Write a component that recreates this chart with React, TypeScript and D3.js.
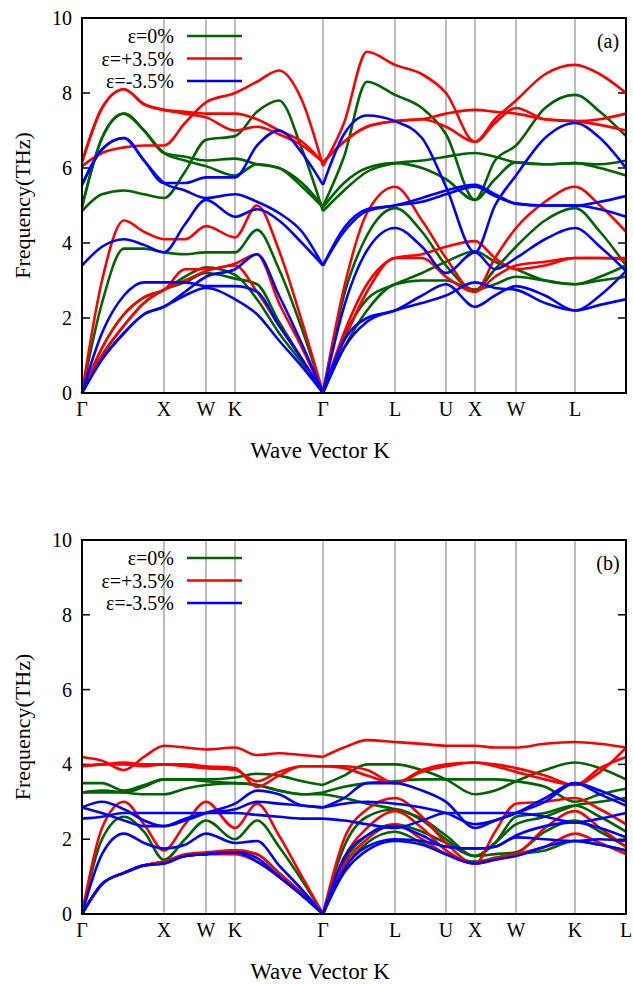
import React, { useRef, useEffect } from 'react';
import * as d3 from 'd3';

// path distance of each sample knot (Γ at index 0, 11)
const kPts = [0, 20, 42, 62, 82, 103, 124, 153, 175, 197, 220, 241, 262, 285, 313, 340, 364, 393, 413, 434, 463, 493, 518, 544];
const symPos = [0, 82, 124, 153, 241, 313, 364, 393, 434, 493, 544];
const symA = ['Γ', 'X', 'W', 'K', 'Γ', 'L', 'U', 'X', 'W', 'L', ''];
const symB = ['Γ', 'X', 'W', 'K', 'Γ', 'L', 'U', 'X', 'W', 'K', 'L'];
const yTicks = [0, 2, 4, 6, 8, 10];
const legendLabels = ['ε=0%', 'ε=+3.5%', 'ε=-3.5%'];
const colors = ['#006400', '#ff0000', '#0000ff'];

const aGreen = [
  [0, 1.0, 1.8, 2.4, 2.75, 2.95, 3.2, 3.05, 2.9, 1.9, 0.9, 0, 1.2, 2.2, 2.9, 3.0, 3.0, 2.75, 2.9, 3.1, 3.0, 2.9, 3.0, 3.1],
  [0, 1.2, 2.1, 2.55, 2.75, 3.1, 3.35, 3.15, 2.5, 1.6, 0.8, 0, 1.5, 2.5, 2.9, 3.2, 3.5, 3.78, 3.5, 3.3, 3.0, 2.9, 3.1, 3.4],
  [0, 2.4, 3.85, 3.85, 3.75, 3.7, 3.75, 3.75, 4.35, 3.3, 1.7, 0, 2.6, 4.2, 4.93, 4.3, 3.4, 2.75, 3.3, 3.9, 4.6, 4.93, 4.3, 3.4],
  [4.85, 5.3, 5.4, 5.3, 5.2, 5.9, 6.75, 6.85, 7.5, 7.8, 6.5, 4.85, 5.4, 5.9, 6.13, 6.2, 6.3, 6.4, 6.3, 6.15, 6.1, 6.13, 6.1, 6.2],
  [4.95, 6.8, 7.45, 7.0, 6.4, 6.2, 6.05, 5.8, 6.1, 6.0, 5.5, 4.95, 5.6, 6.0, 6.13, 6.0, 5.7, 5.15, 5.7, 6.15, 6.1, 6.13, 6.0, 5.8],
  [4.98, 6.8, 7.45, 7.0, 6.4, 6.3, 6.2, 6.25, 6.1, 6.0, 5.6, 4.98, 6.3, 8.3, 7.95, 7.6, 6.9, 5.15, 6.2, 6.6, 7.6, 7.95, 7.5, 6.85],
];
const aRed = [
  [0, 1.0, 1.8, 2.4, 2.75, 3.0, 3.25, 3.4, 2.7, 1.8, 0.9, 0, 1.4, 2.7, 3.6, 3.6, 3.1, 2.7, 3.1, 3.4, 3.5, 3.6, 3.6, 3.55],
  [0, 1.2, 2.1, 2.55, 2.75, 3.3, 3.3, 3.45, 3.7, 2.4, 1.2, 0, 1.6, 2.9, 3.6, 3.7, 3.9, 4.05, 3.6, 3.3, 3.4, 3.6, 3.6, 3.6],
  [0, 3.0, 4.6, 4.3, 4.1, 4.1, 4.45, 4.15, 5.0, 3.8, 1.9, 0, 2.8, 4.8, 5.5, 4.6, 3.6, 2.7, 3.6, 4.4, 5.1, 5.5, 5.0, 4.3],
  [6.05, 6.4, 6.55, 6.6, 6.6, 7.2, 7.75, 8.0, 8.3, 8.6, 7.8, 6.05, 7.2, 9.1, 8.75, 8.5, 8.0, 6.7, 7.3, 7.8, 8.5, 8.75, 8.5, 8.0],
  [6.15, 7.6, 8.1, 7.7, 7.55, 7.5, 7.45, 7.45, 7.3, 7.0, 6.7, 6.15, 6.7, 7.1, 7.25, 7.3, 7.1, 6.7, 7.2, 7.6, 7.3, 7.25, 7.15, 7.0],
  [6.15, 7.6, 8.1, 7.7, 7.55, 7.45, 7.35, 7.0, 7.1, 6.9, 6.6, 6.15, 6.7, 7.1, 7.25, 7.3, 7.45, 7.55, 7.5, 7.45, 7.3, 7.25, 7.3, 7.45],
];
const aBlue = [
  [0, 0.9, 1.6, 2.1, 2.3, 2.6, 2.8, 2.5, 2.1, 1.4, 0.7, 0, 1.2, 1.9, 2.2, 2.4, 2.6, 2.95, 2.8, 2.75, 2.4, 2.2, 2.35, 2.5],
  [0, 1.6, 2.6, 2.95, 2.95, 2.95, 2.85, 2.85, 2.7, 1.8, 0.9, 0, 1.4, 2.0, 2.2, 2.6, 2.9, 2.3, 2.6, 2.85, 2.6, 2.2, 2.6, 3.25],
  [0, 0.9, 1.6, 2.1, 2.3, 2.7, 3.1, 3.3, 3.7, 2.6, 1.3, 0, 2.3, 3.8, 4.4, 3.9, 3.2, 3.75, 3.3, 3.6, 4.1, 4.4, 3.9, 3.25],
  [3.4, 3.9, 4.1, 3.95, 3.75, 4.5, 5.15, 4.7, 4.9, 4.6, 4.0, 3.4, 4.4, 4.9, 5.0, 5.2, 5.4, 5.55, 5.3, 5.05, 5.0, 5.0, 5.1, 5.25],
  [5.55, 6.5, 6.8, 6.2, 5.6, 5.6, 5.75, 5.75, 6.6, 7.0, 6.4, 5.55, 6.9, 7.4, 7.25, 6.8, 5.5, 3.75, 5.0, 5.8, 6.8, 7.2, 6.8, 6.0],
  [5.55, 6.5, 6.8, 6.2, 5.6, 5.4, 5.2, 5.3, 5.1, 4.8, 4.3, 3.4, 4.3, 4.85, 5.0, 5.1, 5.3, 5.5, 5.25, 5.05, 5.0, 5.0, 4.9, 4.7],
];

const bGreen = [
  [0, 0.8, 1.1, 1.3, 1.4, 1.55, 1.6, 1.65, 1.4, 1.0, 0.5, 0, 1.2, 1.9, 2.2, 1.9, 1.6, 1.4, 1.5, 1.6, 1.7, 1.95, 1.85, 1.7],
  [0, 0.8, 1.1, 1.3, 1.4, 1.55, 1.6, 1.7, 1.6, 1.1, 0.55, 0, 1.4, 2.1, 2.4, 2.2, 1.9, 1.55, 1.6, 1.65, 2.2, 2.5, 2.2, 1.8],
  [0, 2.0, 2.6, 2.2, 1.45, 2.0, 2.5, 2.0, 2.5, 1.8, 0.9, 0, 1.8, 2.6, 2.8, 2.5, 2.0, 1.55, 1.9, 2.6, 2.7, 2.9, 2.6, 2.2],
  [3.25, 3.3, 3.25, 3.2, 3.2, 3.35, 3.45, 3.5, 3.45, 3.3, 3.2, 3.2, 3.1, 2.95, 2.8, 2.55, 2.1, 1.55, 1.9, 2.4, 2.6, 2.9, 3.0, 3.1],
  [3.25, 3.25, 3.25, 3.4, 3.6, 3.6, 3.55, 3.5, 3.45, 3.3, 3.2, 3.25, 3.4, 3.5, 3.55, 3.6, 3.6, 3.6, 3.6, 3.55, 3.4, 3.0, 3.2, 3.35],
  [3.5, 3.5, 3.3, 3.45, 3.6, 3.6, 3.6, 3.65, 3.75, 3.7, 3.55, 3.45, 3.7, 4.0, 4.0, 3.85, 3.6, 3.2, 3.3, 3.55, 3.85, 4.05, 3.9, 3.6],
];
const bRed = [
  [0, 0.8, 1.1, 1.3, 1.4, 1.55, 1.6, 1.6, 1.4, 1.0, 0.5, 0, 1.3, 2.0, 2.4, 2.0, 1.6, 1.35, 1.45, 1.6, 1.8, 2.15, 1.9, 1.6],
  [0, 0.8, 1.1, 1.3, 1.4, 1.6, 1.65, 1.7, 1.6, 1.1, 0.55, 0, 1.5, 2.3, 2.75, 2.3, 1.7, 1.35, 1.5, 1.6, 2.3, 2.75, 2.3, 1.8],
  [0, 2.3, 3.0, 2.4, 1.7, 2.4, 3.0, 2.3, 2.95, 2.1, 1.0, 0, 2.0, 2.8, 3.1, 2.6, 1.9, 1.35, 2.2, 2.95, 3.0, 3.1, 2.8, 2.4],
  [3.95, 4.0, 4.0, 3.95, 4.0, 3.95, 3.9, 3.85, 3.55, 3.8, 3.95, 3.95, 3.9, 3.7, 3.5, 3.85, 4.0, 4.05, 4.0, 3.9, 3.7, 3.45, 3.9, 4.2],
  [4.2, 4.1, 3.85, 4.2, 4.5, 4.45, 4.4, 4.45, 4.25, 4.3, 4.25, 4.2, 4.45, 4.65, 4.6, 4.55, 4.5, 4.5, 4.45, 4.45, 4.55, 4.6, 4.55, 4.45],
  [3.95, 4.0, 4.05, 4.0, 4.0, 4.0, 3.95, 3.9, 3.4, 3.7, 3.95, 3.95, 3.95, 3.85, 3.5, 3.8, 3.95, 4.05, 3.95, 3.8, 3.6, 3.45, 3.8, 4.45],
];
const bBlue = [
  [0, 0.8, 1.1, 1.3, 1.35, 1.55, 1.6, 1.65, 1.4, 1.0, 0.5, 0, 1.1, 1.7, 1.95, 1.85, 1.6, 1.35, 1.45, 1.55, 1.8, 1.95, 1.85, 1.7],
  [0, 0.8, 1.1, 1.3, 1.35, 1.55, 1.6, 1.65, 1.5, 1.0, 0.5, 0, 1.2, 1.8, 2.0, 1.95, 1.8, 1.75, 1.8, 2.05, 2.0, 1.95, 2.0, 1.95],
  [0, 1.6, 2.15, 1.9, 1.75, 1.85, 2.15, 1.9, 1.95, 1.3, 0.65, 0, 1.5, 2.1, 2.35, 2.1, 1.8, 1.75, 1.8, 2.1, 2.35, 2.45, 2.3, 2.05],
  [2.55, 2.6, 2.7, 2.7, 2.7, 2.7, 2.7, 2.7, 2.65, 2.6, 2.55, 2.55, 2.5, 2.4, 2.3, 2.5, 2.7, 2.7, 2.7, 2.7, 2.6, 2.45, 2.55, 2.7],
  [2.85, 3.0, 2.8, 2.5, 2.35, 2.5, 2.7, 2.95, 3.3, 3.2, 2.9, 2.85, 3.1, 3.5, 3.5, 3.3, 3.0, 2.3, 2.5, 2.7, 3.1, 3.5, 3.2, 2.9],
  [2.85, 2.7, 2.5, 2.35, 2.35, 2.55, 2.7, 2.8, 3.0, 2.95, 2.9, 2.85, 2.95, 3.0, 2.95, 2.85, 2.7, 2.4, 2.5, 2.7, 3.0, 3.5, 3.3, 3.0],
];

const W = 633, H = 984;
const font = 'Liberation Serif, Times New Roman, Times, serif';

const App: React.FC = () => {
  const svgRef = useRef<SVGSVGElement>(null);

  useEffect(() => {
    const svg = d3.select(svgRef.current);
    svg.selectAll('*').remove();
    svg.append('rect').attr('width', W).attr('height', H).attr('fill', 'white');

    const panels = [
      { top: 18, bottom: 393, sets: [aGreen, aRed, aBlue], labels: symA, tag: '(a)' },
      { top: 540, bottom: 914, sets: [bGreen, bRed, bBlue], labels: symB, tag: '(b)' },
    ];
    const left = 82, right = 626;

    panels.forEach(p => {
      const x = d3.scaleLinear().domain([0, 544]).range([left, right]);
      const y = d3.scaleLinear().domain([0, 10]).range([p.bottom, p.top]);
      const g = svg.append('g').style('font-family', font);

      // high-symmetry lines
      g.selectAll('.sym').data(symPos.slice(1, -1)).enter().append('line')
        .attr('x1', d => x(d)).attr('x2', d => x(d)).attr('y1', p.top).attr('y2', p.bottom)
        .attr('stroke', '#7a7a7a').attr('stroke-width', 1);

      // y ticks
      yTicks.forEach(t => {
        if (t > 0 && t < 10) {
          g.append('line').attr('x1', left).attr('x2', left + 8).attr('y1', y(t)).attr('y2', y(t)).attr('stroke', '#000').attr('stroke-width', 1.5);
          g.append('line').attr('x1', right - 8).attr('x2', right).attr('y1', y(t)).attr('y2', y(t)).attr('stroke', '#000').attr('stroke-width', 1.5);
        }
        g.append('text').attr('x', left - 10).attr('y', y(t) + 7).attr('text-anchor', 'end')
          .attr('font-size', 20).text(t);
      });

      // bands, split at the middle Γ
      const line = d3.line<[number, number]>().x(d => x(d[0])).y(d => y(d[1])).curve(d3.curveMonotoneX);
      p.sets.forEach((bands, si) => {
        bands.forEach(b => {
          const pts: [number, number][] = kPts.map((k, i) => [k, b[i]]);
          [pts.slice(0, 12), pts.slice(11)].forEach(seg => {
            g.append('path').attr('d', line(seg)).attr('fill', 'none')
              .attr('stroke', colors[si]).attr('stroke-width', 2.6);
          });
        });
      });

      // frame
      g.append('rect').attr('x', left).attr('y', p.top).attr('width', right - left).attr('height', p.bottom - p.top)
        .attr('fill', 'none').attr('stroke', '#000').attr('stroke-width', 2);

      // x labels
      p.labels.forEach((l, i) => {
        g.append('text').attr('x', x(symPos[i])).attr('y', p.bottom + 23).attr('text-anchor', 'middle')
          .attr('font-size', 20).text(l);
      });
      g.append('text').attr('x', 320).attr('y', p.bottom + 65).attr('text-anchor', 'middle')
        .attr('font-size', 23).text('Wave Vector K');
      g.append('text').attr('transform', `translate(30,${(p.top + p.bottom) / 2}) rotate(-90)`)
        .attr('text-anchor', 'middle').attr('font-size', 22).text('Frequency(THz)');
      g.append('text').attr('x', 608).attr('y', p.top + 30).attr('text-anchor', 'middle')
        .attr('font-size', 20).text(p.tag);

      // legend
      legendLabels.forEach((l, i) => {
        const ly = p.top + 18 + i * 22.5;
        g.append('text').attr('x', 174).attr('y', ly + 7).attr('text-anchor', 'end')
          .attr('font-size', 20).text(l);
        g.append('line').attr('x1', 187).attr('x2', 242).attr('y1', ly).attr('y2', ly)
          .attr('stroke', colors[i]).attr('stroke-width', 2.6);
      });
    });
  }, []);

  return (
    <svg ref={svgRef} width={W} height={H} style={{ position: 'absolute', left: 0, top: 0 }} />
  );
};

export default App;
